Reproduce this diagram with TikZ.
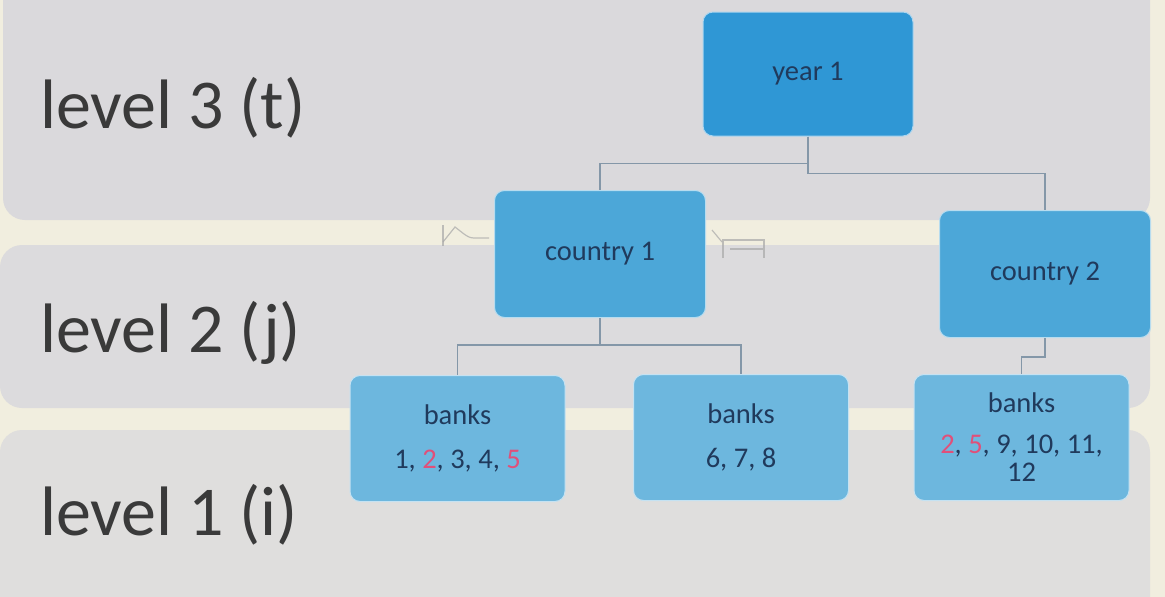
\documentclass[tikz,border=0pt]{standalone}
\usepackage{fontspec}
\setmainfont{Carlito}
\definecolor{cream}{HTML}{F1EEDF}
\definecolor{bandA}{HTML}{DAD9DC}
\definecolor{bandB}{HTML}{DCDBDD}
\definecolor{bandC}{HTML}{DFDEDD}
\definecolor{yearblue}{HTML}{2F97D5}
\definecolor{countryblue}{HTML}{4CA7D8}
\definecolor{bankblue}{HTML}{6DB7DE}
\definecolor{navy}{HTML}{203A5C}
\definecolor{redno}{HTML}{E0507A}
\definecolor{connc}{HTML}{8497A8}
\definecolor{labelgrey}{HTML}{3A3A3A}
\definecolor{ghost}{HTML}{A8A8A8}
\begin{document}
\begin{tikzpicture}[x=1pt,y=-1pt,
  boxbase/.style={rectangle, rounded corners=10pt, inner sep=0pt, text=navy, align=center,
    font=\fontsize{28.5}{31}\selectfont, draw=white!60!#1, line width=1pt, fill=#1},
  yearbox/.style={boxbase=yearblue, minimum width=210pt, minimum height=124pt},
  countrybox/.style={boxbase=countryblue, minimum width=211pt, minimum height=127pt},
  bankbox/.style={boxbase=bankblue, minimum width=215pt, minimum height=126pt},
  conn/.style={draw=connc, line width=1.5pt},
  band/.style={rounded corners=22pt},
  levellabel/.style={anchor=base west, inner sep=0pt, text=labelgrey, font=\fontsize{70}{76}\selectfont},
  ghostline/.style={draw=ghost, line width=1.2pt, opacity=0.7}
]
\useasboundingbox (0,0) rectangle (1165,597);
\fill[cream] (0,0) rectangle (1165,597);
% background bands
\fill[bandA, band] (3,-30) rectangle (1150,220);
\fill[bandB, band] (0,245) rectangle (1150,408);
\fill[bandC, band] (0,430) rectangle (1150,620);

% level labels
\node[levellabel] (l3) at (40,128) {level 3 (t)};
\node[levellabel] (l2) at (40,352) {level 2 (j)};
\node[levellabel] (l1) at (40,535) {level 1 (i)};

% faint artifacts
\draw[ghostline] (443,225) -- (443,246);
\draw[ghostline] (443,242) -- (455,227) -- (464,234) .. controls (470,238) .. (478,238) -- (489,238);
\draw[ghostline] (712,230) -- (722,242);
\draw[ghostline] (723,258) -- (723,240) -- (764,240) -- (764,258);
\draw[ghostline] (730,249) -- (763,249);

% nodes
\node[yearbox] (y1) at (808,74) {year 1};
\node[countrybox] (c1) at (600,254) {country 1};
\node[countrybox] (c2) at (1045,274) {country 2};
\node[bankbox] (b1) at (457.5,438.5) {banks\\[13pt]1, {\color{redno}2}, 3, 4, {\color{redno}5}};
\node[bankbox] (b2) at (741,437.5) {banks\\[13pt]6, 7, 8};
\node[bankbox] (b3) at (1021.5,437.5) {banks\\[10pt]{\color{redno}2}, {\color{redno}5}, 9, 10, 11,\\[-3pt]12};

% connectors
\draw[conn] (y1.south) -- ++(0,27) -| (c1.north);
\draw[conn] (y1.south) -- ++(0,37) -| (c2.north);
\draw[conn] (c1.south) -- ++(0,27) -| (b1.north);
\draw[conn] (c1.south) -- ++(0,27) -| (b2.north);
\draw[conn] (c2.south) -- ++(0,19) -| (b3.north);
\end{tikzpicture}
\end{document}
